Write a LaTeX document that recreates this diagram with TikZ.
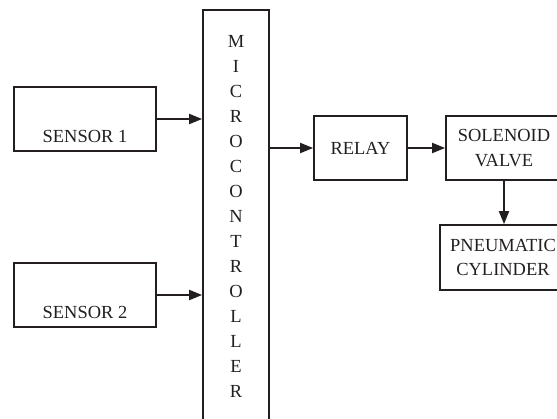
\documentclass[tikz,border=0pt]{standalone}
\usepackage{fontspec}
\setmainfont{Liberation Serif}
\usetikzlibrary{arrows.meta}
\definecolor{ink}{RGB}{35,31,32}

\begin{document}
\begin{tikzpicture}[>={Triangle[length=2.6mm,width=2mm]},
    block/.style={draw=ink,line width=1pt,text=ink,inner sep=0pt,align=center,
        font=\fontsize{10.5}{14.2}\selectfont},
    sensorbox/.style={block,anchor=base,minimum width=2.84cm,text height=1.1cm,text depth=0.18cm},
    link/.style={->,draw=ink,line width=1.1pt}]
    \useasboundingbox (0,0) rectangle (11.14,8.36);
    \clip (0,0) rectangle (11.14,8.36);

    \node[sensorbox] (s1) at (1.70,5.52) {SENSOR 1};
    \node[sensorbox] (s2) at (1.70,2.00) {SENSOR 2};
    \node[block,minimum width=1.32cm,minimum height=8.26cm] (micro) at (4.72,4.03)
        {M\\I\\C\\R\\O\\C\\O\\N\\T\\R\\O\\L\\L\\E\\R};
    \node[block,minimum width=1.86cm,minimum height=1.28cm] (relay) at (7.21,5.40) {RELAY};
    \node[block,minimum width=2.32cm,minimum height=1.28cm] (sol) at (10.08,5.40) {SOLENOID\\VALVE};
    \node[block,minimum width=2.52cm,minimum height=1.30cm] (pn) at (10.06,3.21) {PNEUMATIC\\CYLINDER};

    \draw[link] (s1.east) -- (s1.east -| micro.west);
    \draw[link] (s2.east) -- (s2.east -| micro.west);
    \draw[link] (relay.west -| micro.east) -- (relay.west);
    \draw[link] (relay.east) -- (sol.west);
    \draw[link] (sol.south) -- (sol.south |- pn.north);
\end{tikzpicture}
\end{document}
